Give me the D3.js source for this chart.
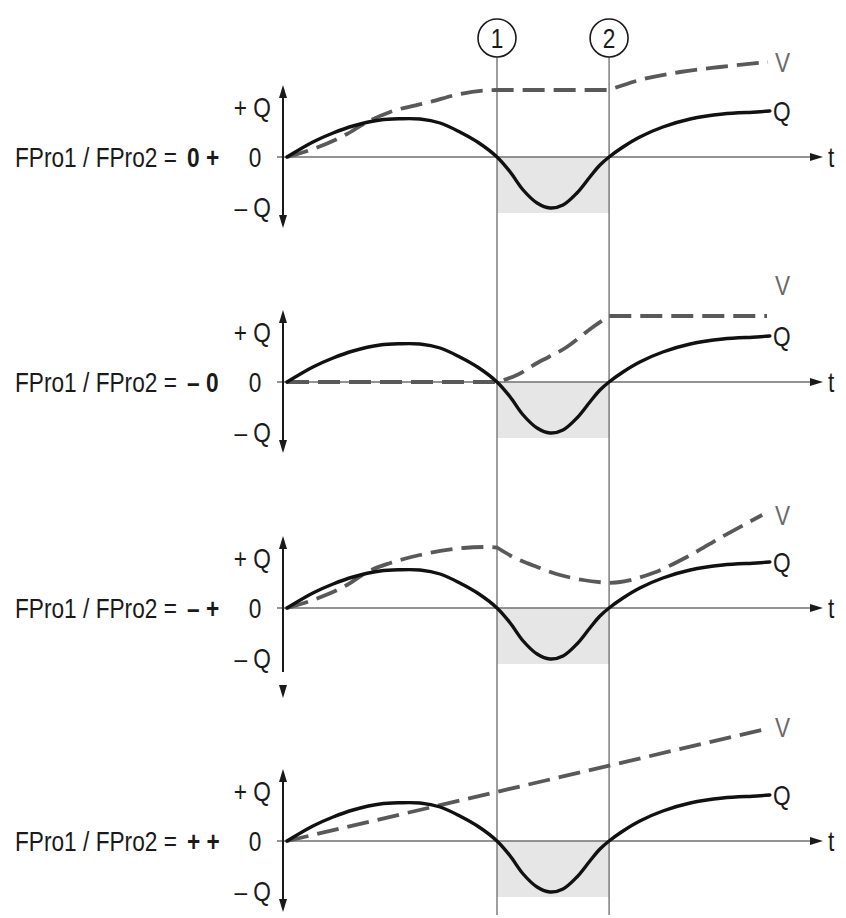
<!DOCTYPE html>
<html><head><meta charset="utf-8">
<script src="https://cdn.jsdelivr.net/npm/d3@7"></script>
<style>
body{margin:0;background:#fff}
svg{display:block}
text{font-family:"Liberation Sans",Arial,sans-serif;fill:#1a1a1a}
</style>
</head><body>
<svg id="c" width="846" height="918"></svg>
<script>
// ---------- data ----------
const panelLabels = ["0 +", "\u2013 0", "\u2013 +", "+ +"];
const labelPrefix = "FPro1 / FPro2 =";
const yTickValues = [1, 0, -1];
const yTickLabels = ["+ Q", "0", "\u2013 Q"];
const eventTimes = [4.375, 6.71];
const eventLabels = ["1", "2"];
const dipDepth = -1.12;

// Q curve (same in all four panels): [t, Q]
const qCurve = [[0,0],[0.54,0.3],[0.96,0.48],[1.375,0.62],[1.94,0.74],[2.35,0.765],[2.77,0.76],
  [3.19,0.68],[3.6,0.5],[4.0,0.28],[4.375,0],[4.65,-0.3],[4.92,-0.66],[5.21,-0.92],[5.48,-1.02],
  [5.75,-0.96],[6.04,-0.72],[6.31,-0.4],[6.52,-0.16],[6.71,0],[7.0,0.2],[7.35,0.4],[7.83,0.6],
  [8.4,0.76],[9.08,0.86],[9.79,0.9],[10.06,0.92]];

// V curves, one list of smooth segments per panel: [t, V]
const vPanel1 = [
  [[0,0],[0.54,0.16],[1.25,0.46],[1.67,0.7],[2.15,0.9],[2.98,1.1],[3.6,1.26],[4.375,1.34],[6.71,1.34]],
  [[6.71,1.34],[7.35,1.54],[8.19,1.7],[9.02,1.8],[10.02,1.9]]
];
const vPanel2 = [
  [[0,0],[4.375,0]],
  [[4.375,0],[4.79,0.14],[5.21,0.38],[5.83,0.7],[6.375,1.1],[6.71,1.32]],
  [[6.71,1.32],[10.0,1.32]]
];
const vPanel3 = [
  [[0,0],[0.54,0.16],[1.25,0.46],[1.67,0.72],[2.15,0.9],[2.77,1.06],[3.67,1.2],[4.17,1.22],[4.375,1.21]],
  [[4.375,1.21],[4.71,1.02],[5.21,0.82],[5.69,0.66],[6.17,0.56],[6.71,0.5]],
  [[6.71,0.5],[6.94,0.52],[7.625,0.7],[8.33,1.02],[9.02,1.4],[9.9,1.86]]
];
const vPanel4 = [
  [[0,0],[10.06,2.26]]
];
const vPanels = [vPanel1, vPanel2, vPanel3, vPanel4];
const vLabelLevels = [1.9, 1.94, 1.86, 2.28];
const qLabelLevel = 0.92;

// ---------- layout ----------
const panelZero = [157, 382, 608, 841];
const SX = 0.84; // condensed look
const svg = d3.select("#c");
const x = d3.scaleLinear().domain([0, 10]).range([287, 767]);
const yFor = z => d3.scaleLinear().domain([-1.5, 1.5]).range([z + 75, z - 75]);

const qLine = (y) => d3.line().x(d => x(d[0])).y(d => y(d[1])).curve(d3.curveCatmullRom.alpha(0.5));
const vLine = (y) => d3.line().x(d => x(d[0])).y(d => y(d[1])).curve(d3.curveMonotoneX);

const gShade = svg.append("g");
const gEvents = svg.append("g");
const gAxes = svg.append("g");
const gCurves = svg.append("g");
const gText = svg.append("g");

function txt(g, tx, ty, str, size, anchor) {
  return g.append("text")
    .attr("transform", `translate(${tx},${ty}) scale(${SX},1)`)
    .attr("dy", "0.36em")
    .attr("text-anchor", anchor || "start")
    .style("font-size", size + "px")
    .text(str);
}

function triangle(tipX, tipY, dir, len, half) {
  if (dir === "up") return `M${tipX},${tipY}L${tipX-half},${tipY+len}L${tipX+half},${tipY+len}Z`;
  if (dir === "down") return `M${tipX},${tipY}L${tipX-half},${tipY-len}L${tipX+half},${tipY-len}Z`;
  return `M${tipX},${tipY}L${tipX-len},${tipY-half}L${tipX-len},${tipY+half}Z`;
}

panelZero.forEach((z, i) => {
  const y = yFor(z);
  // shaded dip window
  gShade.append("rect")
    .attr("x", x(eventTimes[0])).attr("width", x(eventTimes[1]) - x(eventTimes[0]))
    .attr("y", y(0)).attr("height", y(dipDepth) - y(0))
    .attr("fill", "#e6e6e6");

  // t axis
  gAxes.append("line").attr("x1", x(0) - 10).attr("x2", 815).attr("y1", y(0)).attr("y2", y(0))
    .attr("stroke", "#707070").attr("stroke-width", 1.4);
  gAxes.append("path").attr("d", triangle(823, y(0), "right", 13, 4)).attr("fill", "#1a1a1a");
  txt(gText, 828, y(0), "t", 27);

  // vertical Q axis
  const ax = x(0) - 4;
  const topTip = y(1.44);
  const botLineEnd = i === 2 ? y(-1.28) : y(-1.42) - 10;
  const botTip = i === 2 ? y(-1.8) : y(-1.42);
  gAxes.append("line").attr("x1", ax).attr("x2", ax).attr("y1", topTip + 10).attr("y2", botLineEnd)
    .attr("stroke", "#1a1a1a").attr("stroke-width", 2);
  gAxes.append("path").attr("d", triangle(ax, topTip, "up", 13, 4)).attr("fill", "#1a1a1a");
  gAxes.append("path").attr("d", triangle(ax, botTip, "down", 13, 4)).attr("fill", "#1a1a1a");

  // tick labels
  yTickValues.forEach((v, k) => {
    if (v === 0) txt(gText, 255, y(v), yTickLabels[k], 27, "middle");
    else txt(gText, 271, y(v), yTickLabels[k], 27, "end");
  });

  // left label
  txt(gText, 15, y(0), labelPrefix, 27);
  txt(gText, 187, y(0), panelLabels[i], 27).attr("font-weight", "bold");

  // V curve (dashed)
  const lg = vLine(y);
  const dStr = vPanels[i].map((seg, k) => {
    const s = lg(seg);
    return k === 0 ? s : "L" + s.slice(1);
  }).join("");
  gCurves.append("path").attr("d", dStr).attr("fill", "none")
    .attr("stroke", "#595959").attr("stroke-width", 3.8).attr("stroke-dasharray", "22,9");

  // Q curve
  gCurves.append("path").attr("d", qLine(y)(qCurve)).attr("fill", "none")
    .attr("stroke", "#111").attr("stroke-width", 3.4).attr("stroke-linecap", "round");

  // curve labels
  txt(gText, 773, y(qLabelLevel), "Q", 27);
  txt(gText, 775, y(vLabelLevels[i]), "V", 27).style("fill", "#6a6a6a");
});

// event lines + circled numbers
eventTimes.forEach((t, k) => {
  const cx = x(t);
  gEvents.append("line").attr("x1", cx).attr("x2", cx).attr("y1", 57).attr("y2", 915)
    .attr("stroke", "#5e5e5e").attr("stroke-width", 1.2);
  gText.append("circle").attr("cx", cx).attr("cy", 38).attr("r", 19)
    .attr("fill", "#fff").attr("stroke", "#1a1a1a").attr("stroke-width", 1.6);
  txt(gText, cx, 38, eventLabels[k], 27, "middle");
});
</script>
</body></html>
